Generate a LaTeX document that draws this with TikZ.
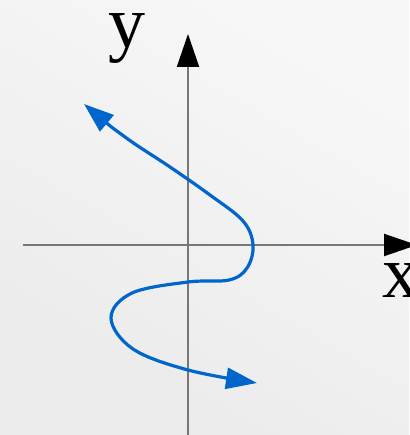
\documentclass[tikz,border=0pt]{standalone}
\usepackage{fontspec}
\setmainfont{Liberation Serif}
\usetikzlibrary{arrows.meta}
\definecolor{pathblue}{HTML}{0066CC}
\definecolor{axisgray}{HTML}{777777}
\tikzset{
  axisline/.style={draw=axisgray,line width=2pt,-{Triangle[length=33pt,width=22pt,color=black]}},
  pathline/.style={draw=pathblue,line width=3.2pt,{Triangle[length=30pt,width=21pt]}-{Triangle[length=31pt,width=21pt]}},
  axislabel/.style={inner sep=0pt,font=\fontsize{74}{74}\selectfont}
}
\begin{document}
\begin{tikzpicture}[x=1pt,y=-1pt]
  % background
  \shade[top color=black!3,bottom color=black!8,shading angle=-30] (0,0) rectangle (409,435);
  \useasboundingbox (0,0) rectangle (409,435);
  % axes
  \coordinate (xa) at (23,245);
  \coordinate (xb) at (417,245);
  \coordinate (ya) at (188,435);
  \coordinate (yb) at (188,34);
  \draw[axisline] (xa) -- (xb);
  \draw[axisline] (ya) -- (yb);
  \node[axislabel,anchor=base] (ylab) at (127,48) {y};
  \node[axislabel,anchor=base west] (xlab) at (382,297) {x};
  % path
  \coordinate (p0) at (84,104);
  \coordinate (p1) at (257,383);
  \draw[pathline] plot[smooth,tension=0.6] coordinates {(p0) (125,137) (170,167) (210,195) (243,221) (253,245) (247,268) (229,280) (188,282) (132,293) (111,318) (133,349) (188,370) (p1)};
\end{tikzpicture}
\end{document}
